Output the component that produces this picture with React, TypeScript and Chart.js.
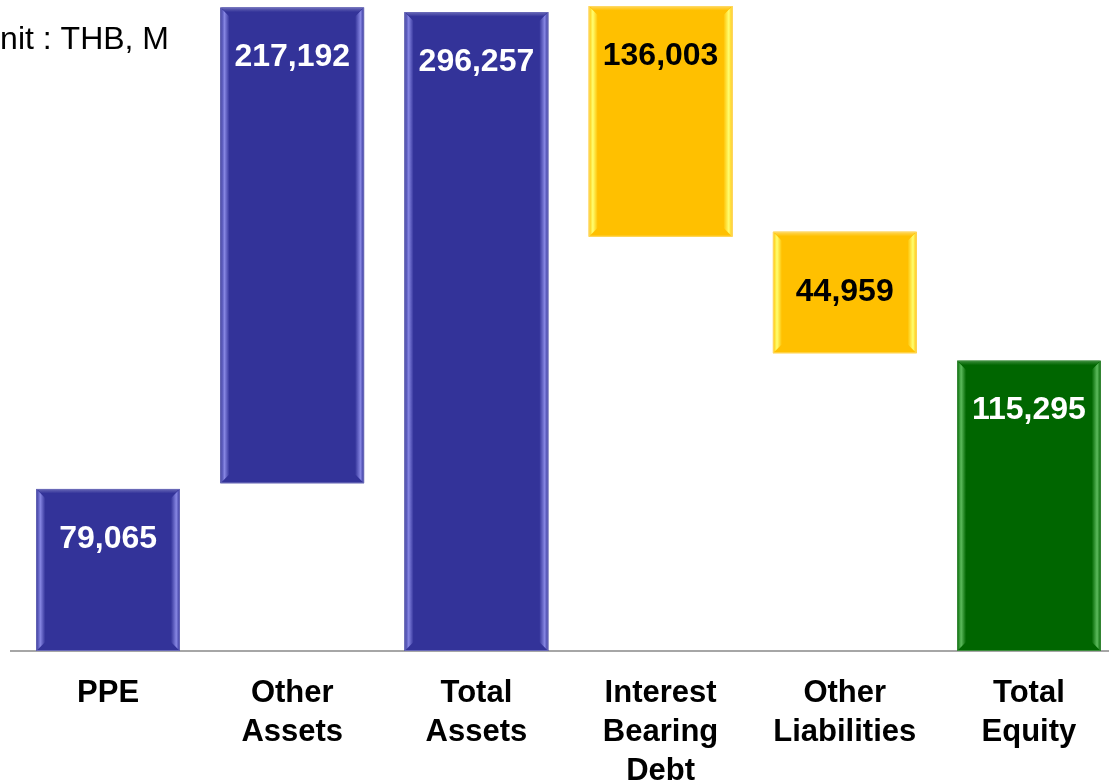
import React, { useEffect, useRef } from "react";
import { Chart, registerables } from "chart.js";

Chart.register(...registerables);

const categories: string[][] = [
  ["PPE"],
  ["Other", "Assets"],
  ["Total", "Assets"],
  ["Interest", "Bearing", "Debt"],
  ["Other", "Liabilities"],
  ["Total", "Equity"],
];
const valueLabels = ["79,065", "217,192", "296,257", "136,003", "44,959", "115,295"];
// bar extents as drawn in the picture (THB M, picture scale)
const barStart = [0, 77800, 0, 192200, 138100, 0];
const barEnd = [75200, 298500, 296400, 299200, 194500, 134700];
const barColors = ["#333399", "#333399", "#333399", "#FFC000", "#FFC000", "#006600"];
const bevelColors = ["#8686E2", "#8686E2", "#8686E2", "#FFFF70", "#FFFF70", "#5DBB5D"];
const edgeColors = ["#6A6AB8", "#6A6AB8", "#6A6AB8", "#FFD860", "#FFD860", "#3C8C3C"];
const labelColors = ["#FFFFFF", "#FFFFFF", "#FFFFFF", "#000000", "#000000", "#FFFFFF"];
const unitText = "Unit : THB, M";

const FONT = "'Liberation Sans', Arial, Helvetica, sans-serif";
const CANVAS_W = 1121;
const VIEW_W = 1109;
const VIEW_H = 782;

const bevelPlugin = {
  id: "bevel",
  afterDatasetsDraw(chart: any) {
    const ctx = chart.ctx;
    const meta = chart.getDatasetMeta(0);
    meta.data.forEach((bar: any, i: number) => {
      const p = bar.getProps(["x", "y", "base", "width"], true);
      const l = p.x - p.width / 2;
      const r = p.x + p.width / 2;
      const t = Math.min(p.y, p.base);
      const b = Math.max(p.y, p.base);
      const s = 9;
      const fill = barColors[i];
      const light = bevelColors[i];
      ctx.save();
      let g = ctx.createLinearGradient(l, 0, l + s, 0);
      g.addColorStop(0, fill);
      g.addColorStop(0.45, light);
      g.addColorStop(1, fill);
      ctx.fillStyle = g;
      ctx.beginPath();
      ctx.moveTo(l, t);
      ctx.lineTo(l + s, t + s);
      ctx.lineTo(l + s, b - s);
      ctx.lineTo(l, b);
      ctx.closePath();
      ctx.fill();
      g = ctx.createLinearGradient(r, 0, r - s, 0);
      g.addColorStop(0, fill);
      g.addColorStop(0.4, light);
      g.addColorStop(1, fill);
      ctx.fillStyle = g;
      ctx.beginPath();
      ctx.moveTo(r, t);
      ctx.lineTo(r - s, t + s);
      ctx.lineTo(r - s, b - s);
      ctx.lineTo(r, b);
      ctx.closePath();
      ctx.fill();
      g = ctx.createLinearGradient(0, t, 0, t + s);
      g.addColorStop(0, edgeColors[i]);
      g.addColorStop(0.5, fill);
      g.addColorStop(1, fill);
      ctx.fillStyle = g;
      ctx.beginPath();
      ctx.moveTo(l + 1, t);
      ctx.lineTo(r - 1, t);
      ctx.lineTo(r - s, t + s);
      ctx.lineTo(l + s, t + s);
      ctx.closePath();
      ctx.fill();
      ctx.strokeStyle = edgeColors[i];
      ctx.lineWidth = 1;
      ctx.strokeRect(l + 0.5, t + 0.5, p.width - 1, b - t - 1);
      const h = b - t;
      const cy = h < 150 ? (t + b) / 2 : t + 50;
      ctx.fillStyle = labelColors[i];
      ctx.font = "bold 32px " + FONT;
      ctx.textAlign = "center";
      ctx.textBaseline = "middle";
      ctx.fillText(valueLabels[i], p.x, cy);
      ctx.restore();
    });
  },
};

const axisLinePlugin = {
  id: "axisLine",
  beforeDatasetsDraw(chart: any) {
    const ctx = chart.ctx;
    const y = chart.scales.y.getPixelForValue(0);
    ctx.save();
    ctx.strokeStyle = "#A6A6A6";
    ctx.lineWidth = 2;
    ctx.beginPath();
    ctx.moveTo(10, y);
    ctx.lineTo(chart.width, y);
    ctx.stroke();
    ctx.restore();
  },
};

const unitPlugin = {
  id: "unitText",
  afterDraw(chart: any) {
    const ctx = chart.ctx;
    ctx.save();
    ctx.fillStyle = "#000000";
    ctx.font = "32px " + FONT;
    ctx.textAlign = "left";
    ctx.textBaseline = "middle";
    ctx.fillText(unitText, -23, 40);
    ctx.restore();
  },
};

export default function App() {
  const ref = useRef<HTMLCanvasElement | null>(null);
  useEffect(() => {
    if (!ref.current) return;
    const chart = new Chart(ref.current, {
      type: "bar",
      data: {
        labels: categories,
        datasets: [
          {
            data: barStart.map((s, i) => [s, barEnd[i]]) as any,
            backgroundColor: barColors,
            borderWidth: 0,
            categoryPercentage: 1,
            barPercentage: 0.78,
          },
        ],
      },
      options: {
        animation: false,
        responsive: false,
        maintainAspectRatio: false,
        layout: { padding: { left: 16, right: 0, top: 0, bottom: 0 } },
        plugins: {
          legend: { display: false },
          tooltip: { enabled: false },
        },
        scales: {
          x: {
            grid: { display: false, drawTicks: false },
            border: { display: false },
            afterFit: (scale: any) => {
              scale.height = 131;
            },
            ticks: {
              color: "#000000",
              padding: 23,
              maxRotation: 0,
              autoSkip: false,
              font: { family: FONT, size: 31, weight: "bold", lineHeight: 1.26 },
            },
          },
          y: {
            display: false,
            min: 0,
            max: 302000,
          },
        },
      },
      plugins: [axisLinePlugin, bevelPlugin, unitPlugin],
    });
    return () => chart.destroy();
  }, []);
  return (
    <div
      style={{
        position: "fixed",
        left: 0,
        top: 0,
        width: VIEW_W,
        height: VIEW_H,
        overflow: "hidden",
        background: "#fff",
      }}
    >
      <canvas
        ref={ref}
        width={CANVAS_W}
        height={VIEW_H}
        style={{ width: CANVAS_W, height: VIEW_H, display: "block" }}
      />
    </div>
  );
}
